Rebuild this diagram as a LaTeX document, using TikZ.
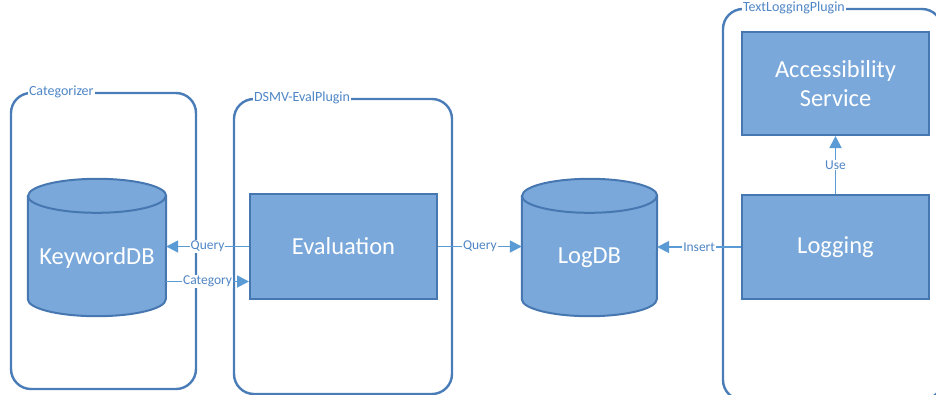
\documentclass[tikz,border=0pt]{standalone}
\usepackage{fontspec}
\setmainfont{Carlito}
\usetikzlibrary{arrows.meta,calc}

\definecolor{boxfill}{HTML}{7AA8DA}
\definecolor{boxline}{HTML}{4677B0}
\definecolor{frameline}{HTML}{4A7DB8}
\definecolor{linkline}{HTML}{5B9BD5}
\definecolor{lbltext}{HTML}{4F86C6}

\tikzset{
  frame/.style={draw=frameline, line width=2.4pt, rounded corners=20pt, inner sep=0pt},
  framelbl/.style={anchor=west, fill=white, text=lbltext, inner sep=1pt, font=\fontsize{14}{16}\selectfont},
  block/.style={draw=boxline, line width=2pt, fill=boxfill, text=white, minimum width=187pt,
    align=center, font=\fontsize{24.5}{29}\selectfont},
  dbspot/.style={inner sep=0pt, text=white, font=\fontsize{24.5}{29}\selectfont},
  dbshape/.style={draw=boxline, line width=2pt, fill=boxfill},
  link/.style={draw=linkline, line width=1.8pt, -{Triangle[length=12pt,width=12pt]}},
  lbl/.style={fill=white, text=lbltext, inner sep=1pt, font=\fontsize{13.5}{16}\selectfont}
}

\begin{document}
\begin{tikzpicture}[x=1pt,y=-1pt]
    \useasboundingbox (0,0) rectangle (936,394);
    \clip (0,0) rectangle (936,394);

    %Rahmen
    \node[frame, minimum width=185pt, minimum height=296pt] (categorizer) at (103.5,241) {};
    \node[frame, minimum width=218pt, minimum height=295pt] (evalplugin) at (343,246.5) {};
    \node[frame, minimum width=219pt, minimum height=391pt] (textlogging) at (832.5,204.5) {};
    \node[framelbl] (catlbl) at ($(categorizer.north west)+(18,0)$) {Categorizer};
    \node[framelbl] (evallbl) at ($(evalplugin.north west)+(20,0)$) {DSMV-EvalPlugin};
    \node[framelbl] (loglbl) at ($(textlogging.north west)+(20,0)$) {TextLoggingPlugin};

    %Datenbanken
    \node[dbspot, minimum width=138pt, minimum height=137pt] (kdb) at (97,247.5) {};
    \draw[dbshape] ($(kdb.north west)+(0,17)$) -- ($(kdb.south west)+(0,-17)$)
        arc[start angle=180, end angle=360, x radius=69pt, y radius=17pt]
        -- ($(kdb.north east)+(0,17)$)
        arc[start angle=0, end angle=180, x radius=69pt, y radius=17pt] -- cycle;
    \draw[dbshape, fill=none] ($(kdb.north west)+(0,17)$)
        arc[start angle=180, end angle=360, x radius=69pt, y radius=17pt];
    \node[dbspot] (kdbtext) at ($(kdb.center)+(0,10)$) {KeywordDB};

    \node[dbspot, minimum width=135pt, minimum height=137pt] (logdb) at (589.5,247.5) {};
    \draw[dbshape] ($(logdb.north west)+(0,17)$) -- ($(logdb.south west)+(0,-17)$)
        arc[start angle=180, end angle=360, x radius=67.5pt, y radius=17pt]
        -- ($(logdb.north east)+(0,17)$)
        arc[start angle=0, end angle=180, x radius=67.5pt, y radius=17pt] -- cycle;
    \draw[dbshape, fill=none] ($(logdb.north west)+(0,17)$)
        arc[start angle=180, end angle=360, x radius=67.5pt, y radius=17pt];
    \node[dbspot] (logdbtext) at ($(logdb.center)+(0,10)$) {LogDB};

    %Bloecke
    \node[block, minimum height=105pt] (eval) at (343.5,246.5) {Evaluation};
    \node[block, minimum height=104pt] (logging) at (835.5,247) {Logging};
    \node[block, minimum height=103pt] (access) at (835.5,83.5) {Accessibility\\Service};

    %Verbindungen
    \draw[link] (eval.west) -- (eval.west -| kdb.east) node[lbl, midway]{Query};
    \draw[link] ($(kdb.east)+(0,34)$) coordinate (catstart) -- (catstart -| eval.west) node[lbl, midway]{Category};
    \draw[link] (eval.east) -- (eval.east -| logdb.west) node[lbl, midway]{Query};
    \draw[link] (logging.west) -- (logging.west -| logdb.east) node[lbl, midway]{Insert};
    \draw[link] (logging.north) -- (access.south) node[lbl, midway]{Use};
\end{tikzpicture}
\end{document}
